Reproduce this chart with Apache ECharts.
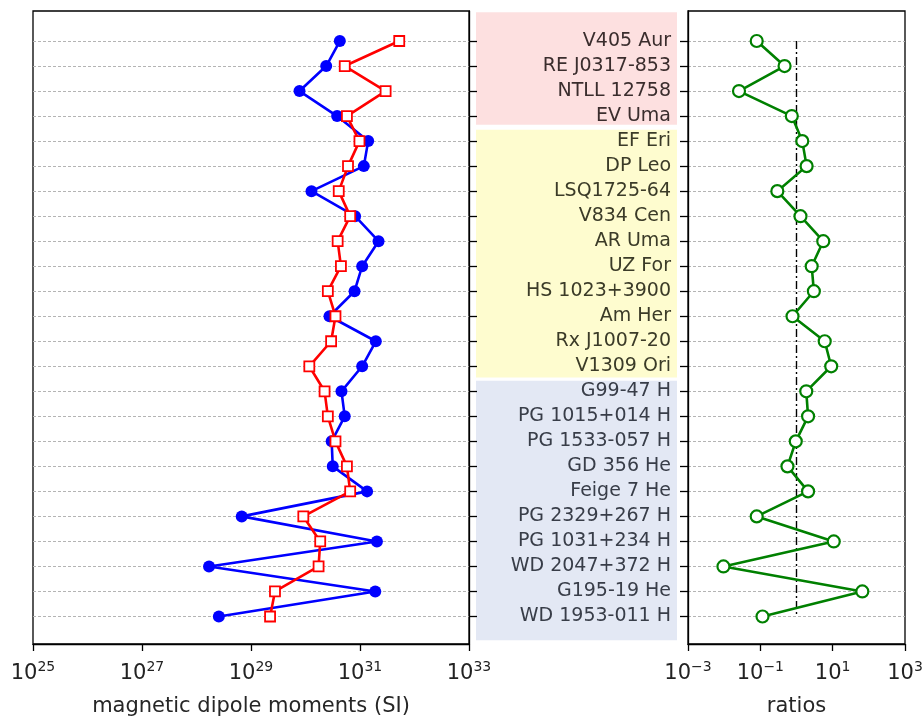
<!DOCTYPE html>
<html>
<head>
<meta charset="utf-8">
<script src="https://cdn.jsdelivr.net/npm/echarts@6/dist/echarts.min.js"></script>
<style>
  html, body { margin: 0; padding: 0; background: #fff; }
  #chart { width: 924px; height: 717px; }
</style>
</head>
<body>
<div id="chart"></div>
<script>
// star names, top to bottom
const starNames = [
  'V405 Aur', 'RE J0317-853', 'NTLL 12758', 'EV Uma',
  'EF Eri', 'DP Leo', 'LSQ1725-64', 'V834 Cen', 'AR Uma', 'UZ For',
  'HS 1023+3900', 'Am Her', 'Rx J1007-20', 'V1309 Ori',
  'G99-47 H', 'PG 1015+014 H', 'PG 1533-057 H', 'GD 356 He', 'Feige 7 He',
  'PG 2329+267 H', 'PG 1031+234 H', 'WD 2047+372 H', 'G195-19 He', 'WD 1953-011 H'
]
// magnetic dipole moments, as log10 (SI)
const blueExp = [30.63, 30.38, 29.89, 30.58, 31.15, 31.07, 30.11, 30.91, 31.34, 31.04,
  30.90, 30.44, 31.29, 31.04, 30.66, 30.72, 30.48, 30.50, 31.13, 28.83,
  31.31, 28.23, 31.28, 28.41]
const redExp = [31.72, 30.72, 31.47, 30.76, 30.99, 30.78, 30.61, 30.82, 30.59, 30.65,
  30.41, 30.55, 30.47, 30.07, 30.35, 30.41, 30.55, 30.76, 30.82, 29.96,
  30.27, 30.24, 29.44, 29.35]
// ratios, as log10
const ratioExp = [-1.10, -0.33, -1.59, -0.13, 0.16, 0.28, -0.53, 0.11, 0.74, 0.42,
  0.48, -0.11, 0.78, 0.96, 0.27, 0.32, -0.02, -0.25, 0.32, -1.10,
  1.03, -2.02, 1.82, -0.94]
// tick exponents
const momentTicks = [25, 27, 29, 31, 33]
const ratioTicks = [-3, -1, 1, 3]
// groups of rows (first, last)
const groupFirst = [0, 4, 14]
const groupLast = [3, 13, 23]

const rows = starNames.map((n, i) => i)
const font = 'DejaVu Sans'
const bandColors = ['#fde0e0', '#fefccf', '#e3e8f4']
const textColors = ['#3a2d2d', '#3b3b28', '#383d48']

function groupOf(i) {
  for (let g = 0; g < groupFirst.length; g++) {
    if (i >= groupFirst[g] && i <= groupLast[g]) return g
  }
  return 0
}

function powLabel(v) {
  const e = v < 0 ? '\u2212' + (-v) : String(v)
  return '{b|10}{s|' + e + '}'
}

const powRich = {
  b: { fontFamily: font, fontSize: 21, color: '#222' },
  s: { fontFamily: font, fontSize: 14, color: '#222', padding: [0, 0, 14, 0] }
}

const frame = {
  show: true, borderColor: '#000', borderWidth: 1.3,
  backgroundColor: 'transparent', outerBoundsMode: 'none'
}
const gridDash = { show: true, lineStyle: { color: '#b4b4b4', width: 1, type: [3, 2] } }

function xAxisFor(idx, ticks, min, max, name) {
  return {
    gridIndex: idx,
    type: 'value',
    min: min,
    max: max,
    axisLine: { show: true, onZero: false, lineStyle: { color: '#000', width: 1.3 } },
    axisTick: { show: true, length: 7, customValues: ticks, lineStyle: { color: '#000', width: 1.3 } },
    axisLabel: { customValues: ticks, formatter: powLabel, rich: powRich, margin: 16 },
    splitLine: { show: false },
    name: name,
    nameLocation: 'middle',
    nameGap: 52,
    nameTextStyle: { fontFamily: font, fontSize: 21, color: '#262626' }
  }
}

function yAxisFor(idx, pos) {
  return {
    gridIndex: idx,
    type: 'value',
    min: -1.2,
    max: 24.1,
    inverse: true,
    position: pos,
    axisLine: { show: true, onZero: false, lineStyle: { color: '#000', width: 1.3 } },
    axisTick: { show: true, length: 8, customValues: rows, lineStyle: { color: '#000', width: 1.3 } },
    axisLabel: { show: false, customValues: rows },
    splitLine: Object.assign({ customValues: rows }, gridDash)
  }
}

// the star names sit in the middle panel, right aligned, above the bands
const nameAxis = {
  gridIndex: 1,
  type: 'value',
  min: -1.2,
  max: 24.1,
  inverse: true,
  position: 'right',
  z: 10,
  axisLine: { show: false },
  axisTick: { show: false, customValues: rows },
  splitLine: { show: false },
  axisLabel: {
    show: true,
    inside: true,
    customValues: rows,
    margin: 6,
    formatter: v => '{g' + groupOf(v) + '|' + starNames[v] + '}',
    rich: {
      g0: { fontFamily: font, fontSize: 19, color: textColors[0] },
      g1: { fontFamily: font, fontSize: 19, color: textColors[1] },
      g2: { fontFamily: font, fontSize: 19, color: textColors[2] }
    }
  }
}

const bandTop = [-1.15, 3.55, 13.58]
const bandBottom = [3.35, 13.45, 23.95]
const bands = groupFirst.map((f, g) => [
  { yAxis: bandTop[g], itemStyle: { color: bandColors[g] } },
  { yAxis: bandBottom[g] }
])

const option = {
  animation: false,
  grid: [
    Object.assign({ left: 33, top: 11, width: 436, height: 633 }, frame),
    { left: 476, top: 11, width: 201, height: 633, show: false, outerBoundsMode: 'none' },
    Object.assign({ left: 688, top: 11, width: 217, height: 633 }, frame)
  ],
  xAxis: [
    xAxisFor(0, momentTicks, 25, 33, 'magnetic dipole moments (SI)'),
    { gridIndex: 1, type: 'value', min: 0, max: 1, show: false },
    xAxisFor(2, ratioTicks, -3, 3, 'ratios')
  ],
  yAxis: [
    yAxisFor(0, 'right'),
    nameAxis,
    yAxisFor(2, 'left')
  ],
  series: [
    {
      type: 'line',
      xAxisIndex: 1,
      yAxisIndex: 1,
      data: [],
      z: 0,
      markArea: { silent: true, z: 0, data: bands }
    },
    {
      type: 'line',
      xAxisIndex: 0,
      yAxisIndex: 0,
      data: blueExp.map((v, i) => [v, i]),
      symbol: 'circle',
      symbolSize: 12,
      itemStyle: { color: '#0000ff' },
      lineStyle: { color: '#0000ff', width: 2.6 },
      z: 3
    },
    {
      type: 'line',
      xAxisIndex: 0,
      yAxisIndex: 0,
      data: redExp.map((v, i) => [v, i]),
      symbol: 'rect',
      symbolSize: 10,
      itemStyle: { color: '#fff', borderColor: '#ff0000', borderWidth: 1.8 },
      lineStyle: { color: '#ff0000', width: 2.6 },
      z: 4
    },
    {
      type: 'line',
      xAxisIndex: 2,
      yAxisIndex: 2,
      data: [[0, 0], [0, 23]],
      symbol: 'none',
      lineStyle: { color: '#000', width: 1.4, type: [8, 3, 2, 3] },
      z: 2
    },
    {
      type: 'line',
      xAxisIndex: 2,
      yAxisIndex: 2,
      data: ratioExp.map((v, i) => [v, i]),
      symbol: 'circle',
      symbolSize: 12,
      itemStyle: { color: '#fff', borderColor: '#008000', borderWidth: 2.2 },
      lineStyle: { color: '#008000', width: 2.6 },
      z: 3
    }
  ]
}

const chart = echarts.init(document.getElementById('chart'))
chart.setOption(option)
</script>
</body>
</html>
